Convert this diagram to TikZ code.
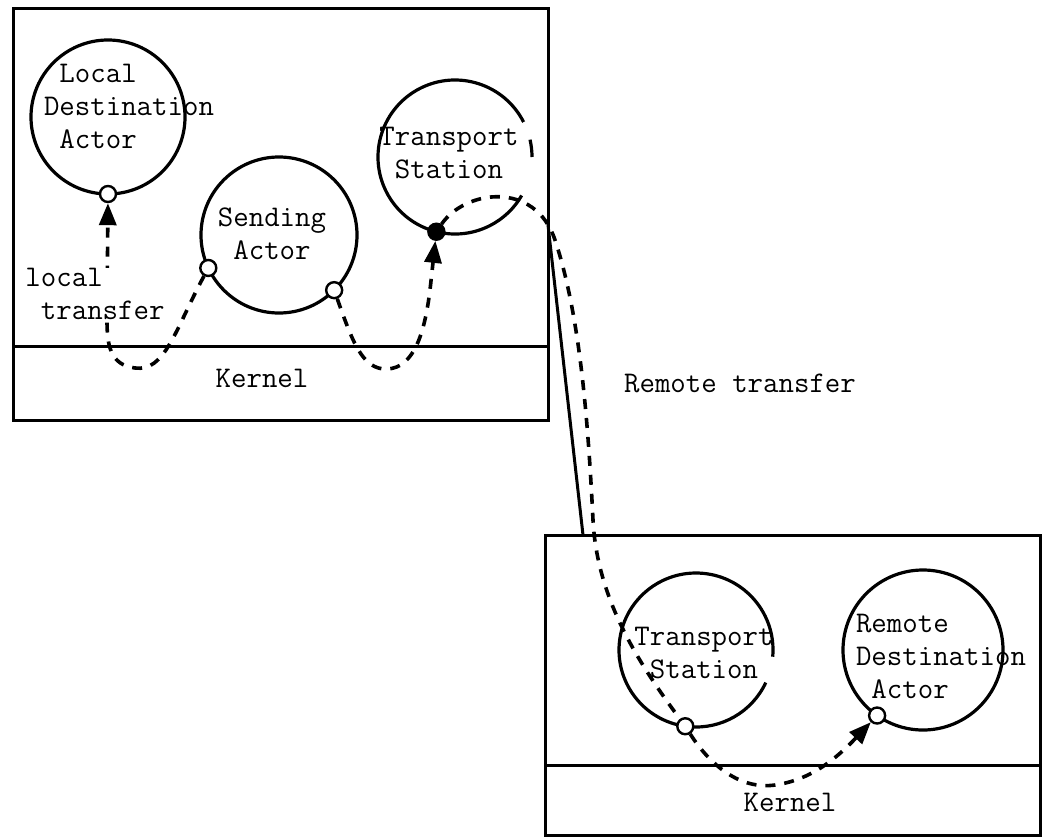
\documentclass[tikz,border=0pt]{standalone}
\usepackage{fontspec}
\usetikzlibrary{arrows.meta, positioning, calc}
\tikzset{
  sitebox/.style={
    draw, line width=3pt, inner sep=0pt, outer sep=0pt
  },
  kernelline/.style={line width=3pt},
  ringline/.style={line width=3.2pt},
  actorring/.style={
    circle, draw, line width=3.2pt, inner sep=0pt, outer sep=0pt,
    minimum size=#1
  },
  actorring/.default=154pt,
  portdot/.style={
    circle, draw, fill=white, line width=2.4pt, minimum size=16pt,
    inner sep=0pt
  },
  xfer/.style={line width=3.6pt, dash pattern=on 10pt off 9pt},
  xferarrow/.style={xfer, -{Triangle[length=22pt, width=17pt]}},
  typed/.style={font=\ttfamily\fontsize{30}{33}\selectfont, inner sep=0pt},
}

\begin{document}
\begin{tikzpicture}[x=1pt, y=1pt]
  \useasboundingbox (0,0) rectangle (1049,-838);

  % Local site with its kernel
  \node[sitebox, minimum width=535pt, minimum height=412pt] (site1) at (280.5,-214) {};
  \draw[kernelline] (site1.west |- 0,-346) -- (site1.east |- 0,-346);
  \node[typed] (kernel1) at (262,-378) {Kernel};

  % Remote site with its kernel
  \node[sitebox, minimum width=495pt, minimum height=300pt] (site2) at (792.5,-685) {};
  \draw[kernelline] (site2.west |- 0,-765) -- (site2.east |- 0,-765);
  \node[typed] (kernel2) at (790,-802) {Kernel};

  % Link between the sites
  \coordinate (link-top) at (548,-225);
  \coordinate (link-bot) at (583,-535);
  \draw[kernelline] (link-top) -- (link-bot);

  % Actors, local side
  \node[actorring] (lda) at (108,-117) {};
  \node[typed, align=left] (lda-text) at (129,-106)
    {\phantom{D}Local\\Destination\\\phantom{D}Actor};
  \node[actorring=156pt] (sa) at (279,-235) {};
  \node[typed, align=center] (sa-text) at (272,-234) {Sending\\Actor};
  \node[actorring, draw=none] (ts1) at (455,-157) {};
  \draw[ringline] (ts1.27) arc[start angle=27, end angle=330, radius=77pt];
  \draw[ringline] (ts1.0) arc[start angle=0, end angle=13, radius=77pt];
  \node[typed, align=center] (ts1-text) at (449,-153) {Transport\\Station};

  % Actors, remote side
  \node[actorring, draw=none] (ts2) at (696,-650) {};
  \draw[ringline] (ts2.-5) arc[start angle=-5, end angle=335, radius=77pt];
  \node[typed, align=center] (ts2-text) at (704,-653) {Transport\\Station};
  \node[actorring=160pt] (rda) at (923,-650) {};
  \node[typed, align=left] (rda-text) at (941,-657)
    {Remote\\Destination\\\phantom{R}Actor};

  % Ports
  \node[portdot] (lda-port) at (lda.-90) {};
  \node[portdot] (sa-lport) at (sa.-155) {};
  \node[portdot] (sa-rport) at (sa.-45) {};
  \node[portdot, fill=black] (ts1-port) at (ts1.-104) {};
  \node[portdot] (ts2-port) at (ts2.-98) {};
  \node[portdot] (rda-port) at (rda.-125) {};

  % Transfers through the kernels
  \draw[xferarrow] (sa-lport) .. controls (175,-330) and (165,-372) .. (135,-368)
    .. controls (110,-365) and (107,-345) .. (107,-320) -- (lda-port);
  \draw[xferarrow] (sa-rport) .. controls (352,-340) and (362,-370) .. (387,-369)
    .. controls (415,-368) and (425,-330) .. (430,-290) -- (ts1-port);
  \draw[xfer] (ts1-port) .. controls (465,-190) and (535,-180) .. (555,-240)
    .. controls (580,-315) and (588,-420) .. (593,-520)
    .. controls (597,-600) and (640,-665) .. (ts2-port);
  \draw[xferarrow] (ts2-port) .. controls (710,-765) and (740,-790) .. (775,-785)
    .. controls (810,-780) and (835,-760) .. (rda-port);

  % Labels
  \node[typed, align=left, fill=white] (local-label) at (95,-294)
    {local\\\phantom{t}transfer};
  \node[typed] (remote-label) at (740,-383) {Remote transfer};
\end{tikzpicture}
\end{document}
